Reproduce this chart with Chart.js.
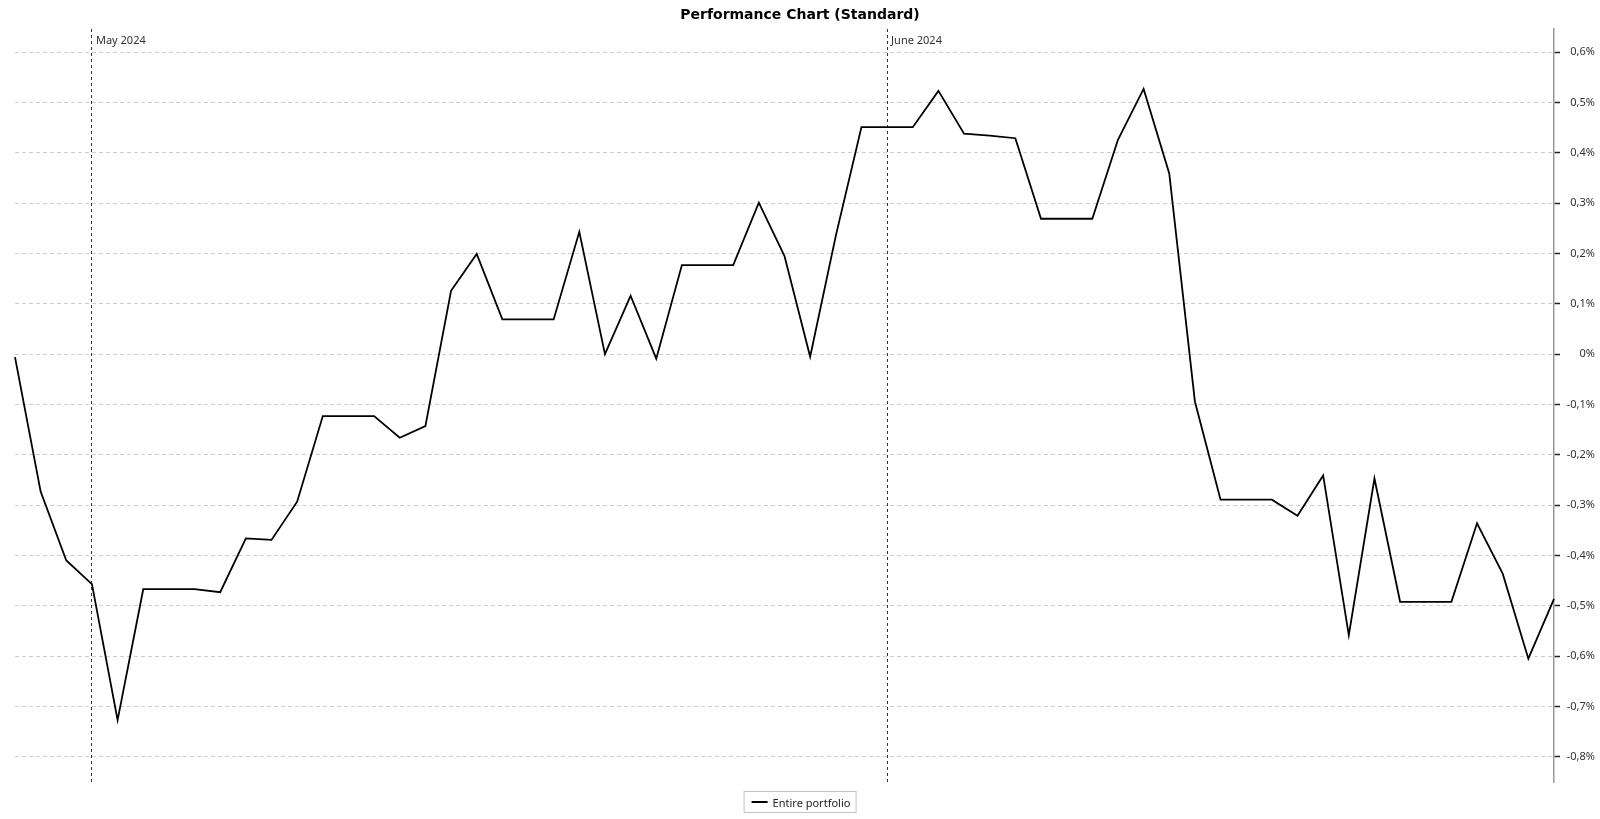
<!DOCTYPE html>
<html>
<head>
<meta charset="utf-8">
<title>Performance Chart (Standard)</title>
<script src="https://cdn.jsdelivr.net/npm/chart.js@4.4.1/dist/chart.umd.min.js"></script>
<style>
  body { margin: 0; background: #fff; }
  #wrap { position: relative; width: 1600px; height: 819px; }
  #legend {
    position: absolute; left: 800px; top: 791px; height: 20px; transform: translateX(-50%);
    border: 1px solid #c4c4c4; font: 11px "Noto Sans", sans-serif; color: #222;
    display: flex; align-items: center; white-space: nowrap; padding-right: 5px;
  }
  #legend .swatch { width: 16px; height: 2px; background: #000; margin: 0 5px 0 7px; flex: none; }
</style>
</head>
<body>
<div id="wrap">
  <canvas id="chart" width="1600" height="819"></canvas>
  <div id="legend"></div>
</div>
<script>
// Daily performance, 28 Apr 2024 – 27 Jun 2024 (weekends repeat Friday's value).
const startDate = '2024-04-28';
const dayCount = 61;
const chartTitle = 'Performance Chart (Standard)';
const seriesName = 'Entire portfolio';
const performance = [
  -0.006, -0.273, -0.410,
  -0.457, -0.727, -0.467, -0.467, -0.467, -0.473, -0.366, -0.369, -0.293, -0.123,
  -0.123, -0.123, -0.166, -0.143, 0.126, 0.199, 0.069, 0.069, 0.069, 0.243,
  0.000, 0.116, -0.009, 0.177, 0.177, 0.177, 0.301, 0.195, -0.005, 0.235, 0.451,
  0.451, 0.451, 0.523, 0.438, 0.434, 0.429, 0.269, 0.269, 0.269, 0.426, 0.527,
  0.359, -0.094, -0.289, -0.289, -0.289, -0.321, -0.241, -0.558, -0.247, -0.492,
  -0.492, -0.492, -0.336, -0.436, -0.605, -0.486,
];
const monthStarts = ['2024-05-01', '2024-06-01'];
const monthLabels = ['May 2024', 'June 2024'];
const yTicks = [-0.8, -0.7, -0.6, -0.5, -0.4, -0.3, -0.2, -0.1, 0, 0.1, 0.2, 0.3, 0.4, 0.5, 0.6];
const yMin = -0.85;
const yMax = 0.646;

// Category labels: one per calendar day.
const dates = [];
for (let i = 0; i < dayCount; i++) {
  const d = new Date(startDate + 'T00:00:00Z');
  d.setUTCDate(d.getUTCDate() + i);
  dates.push(d.toISOString().slice(0, 10));
}

function fmtPct(v) {
  if (Math.abs(v) < 1e-9) return '0%';
  return v.toFixed(1).replace('.', ',') + '%';
}

// Title centred on the whole canvas (the built-in one centres on the padded box).
const titlePlugin = {
  id: 'pageTitle',
  afterDraw(chart) {
    const { ctx } = chart;
    ctx.save();
    ctx.font = 'bold 14px "DejaVu Sans", sans-serif';
    ctx.fillStyle = '#000';
    ctx.textAlign = 'center';
    ctx.textBaseline = 'middle';
    ctx.fillText(chartTitle, chart.width / 2, 15.5);
    ctx.restore();
  },
};

// Month names written just inside the top of the plot, right of each month line.
const monthLabelPlugin = {
  id: 'monthLabels',
  afterDatasetsDraw(chart) {
    const { ctx, chartArea, scales } = chart;
    ctx.save();
    ctx.font = '11px "Noto Sans", sans-serif';
    ctx.fillStyle = '#333';
    ctx.textBaseline = 'middle';
    monthStarts.forEach((m, i) => {
      const x = scales.x.getPixelForValue(dates.indexOf(m));
      ctx.fillText(monthLabels[i], x + 4, chartArea.top + 12);
    });
    ctx.restore();
  },
};

const chart = new Chart(document.getElementById('chart'), {
  type: 'line',
  data: {
    labels: dates,
    datasets: [{
      label: seriesName,
      data: performance,
      borderColor: '#000',
      borderWidth: 1.8,
      pointRadius: 0,
      tension: 0,
      fill: false,
    }],
  },
  options: {
    responsive: false,
    animation: false,
    layout: { padding: { left: 15, right: 5, top: 29, bottom: 37 } },
    plugins: {
      legend: { display: false },
      tooltip: { enabled: false },
      title: { display: false },
    },
    scales: {
      x: {
        type: 'category',
        offset: false,
        ticks: { display: false, autoSkip: false },
        border: { display: false, dash: [3, 3] },
        grid: {
          drawTicks: false,
          color: ctx => monthStarts.includes(dates[ctx.index]) ? '#333' : 'rgba(0,0,0,0)',
        },
      },
      y: {
        position: 'right',
        min: yMin,
        max: yMax,
        afterBuildTicks: s => { s.ticks = yTicks.map(v => ({ value: v })); },
        afterFit: s => { s.width = 41; },
        ticks: {
          callback: v => fmtPct(v),
          color: '#333',
          font: { family: '"Noto Sans", sans-serif', size: 11 },
          padding: 3,
          crossAlign: 'far',
        },
        border: { display: true, color: '#999', width: 1.5, dash: [4, 3] },
        grid: {
          color: '#cfcfcf',
          tickLength: 6,
          tickColor: '#222',
          tickWidth: 1.5,
          tickBorderDash: [],
        },
      },
    },
  },
  plugins: [titlePlugin, monthLabelPlugin],
});

// Legend box below the plot, built from the dataset label.
const legend = document.getElementById('legend');
const swatch = document.createElement('span');
swatch.className = 'swatch';
legend.append(swatch, document.createTextNode(chart.data.datasets[0].label));
</script>
</body>
</html>
